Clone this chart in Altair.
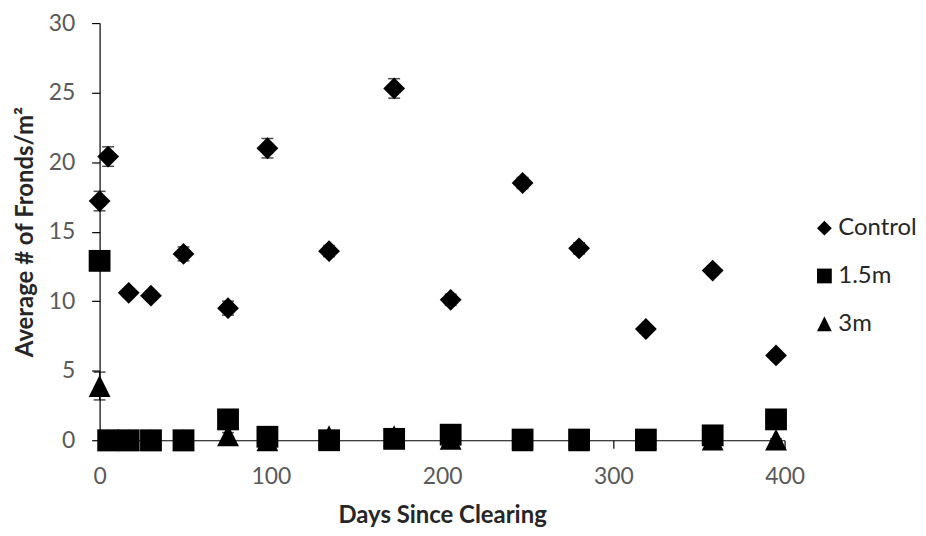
import altair as alt
import pandas as pd

# ---- data ----
days = [0, 5, 17, 30, 49, 75, 98, 134, 172, 205, 247, 280, 319, 358, 395]
control = [17.2, 20.4, 10.6, 10.4, 13.4, 9.5, 21.0, 13.6, 25.3, 10.1, 18.5, 13.8, 8.0, 12.2, 6.1]
control_se = [0.7, 0.7, 0.3, 0.3, 0.5, 0.5, 0.7, 0.4, 0.7, 0.4, 0.4, 0.4, 0.3, 0.3, 0.3]
m15 = [12.9, 0, 0, 0, 0, 1.5, 0.25, 0, 0.1, 0.4, 0.05, 0.05, 0.05, 0.35, 1.5]
m15_se = [0.6, 0, 0, 0, 0, 0.3, 0.1, 0, 0.1, 0.2, 0, 0, 0, 0.2, 0.3]
m3 = [3.9, 0, 0, 0, 0, 0.35, 0, 0.3, 0.3, 0.1, 0, 0, 0, 0.05, 0.05]
m3_se = [1.0, 0, 0, 0, 0, 0.2, 0, 0.2, 0.2, 0.1, 0, 0, 0, 0.05, 0.05]
series_names = ["Control", "1.5m", "3m"]
x_ticks = [0, 100, 200, 300, 400]
y_ticks = [0, 5, 10, 15, 20, 25, 30]

rows = []
for name, vals, errs in zip(series_names, [control, m15, m3], [control_se, m15_se, m3_se]):
    for d, v, e in zip(days, vals, errs):
        rows.append(dict(day=d, value=v, series=name, se=e,
                         lo=max(v - e, 0), hi=v + e))
df = pd.DataFrame(rows)
err_df = df[df["se"] > 0]

FONT = "Lato"
diamond = "M-1,0L0,-1L1,0L0,1Z"
square = "M-1,-1L1,-1L1,1L-1,1Z"
triangle = "M0,-1L1,1L-1,1Z"

x_enc = alt.X("day:Q", scale=alt.Scale(domain=[0, 400], nice=False),
              axis=alt.Axis(values=x_ticks, title="Days Since Clearing", grid=False,
                            tickSize=8, labelPadding=17, titlePadding=16,
                            labelFlush=False, format="d"))
y_scale = alt.Scale(domain=[0, 30], nice=False)
y_axis = alt.Axis(values=y_ticks, title="Average # of Fronds/m²", grid=False,
                  tickSize=8, labelPadding=17, titlePadding=11,
                  labelFlush=False, format="d")

base = alt.Chart(err_df)
rule = base.mark_rule(color="black", strokeWidth=1.2, clip=False).encode(
    x="day:Q", y=alt.Y("lo:Q", scale=y_scale), y2="hi:Q")
cap_lo = base.mark_tick(color="black", orient="horizontal", size=12, thickness=1.5, clip=False).encode(
    x="day:Q", y=alt.Y("lo:Q", scale=y_scale))
cap_hi = base.mark_tick(color="black", orient="horizontal", size=12, thickness=1.5, clip=False).encode(
    x="day:Q", y=alt.Y("hi:Q", scale=y_scale))

points = alt.Chart(df).mark_point(filled=True, opacity=1, size=480, clip=False,
                                  color="black", strokeWidth=0).encode(
    x=x_enc,
    y=alt.Y("value:Q", scale=y_scale, axis=y_axis),
    shape=alt.Shape("series:N",
                    scale=alt.Scale(domain=series_names, range=[diamond, square, triangle]),
                    legend=alt.Legend(title=None, orient="none", legendX=716, legendY=194,
                                      symbolSize=220, symbolFillColor="black",
                                      symbolStrokeColor="black", symbolStrokeWidth=0,
                                      symbolOpacity=1,
                                      labelFontSize=24, labelFont=FONT, labelColor="#262626",
                                      labelOffset=2, rowPadding=24, padding=0)),
)

chart = alt.layer(points, rule, cap_lo, cap_hi).properties(
    width=688, height=419,
    autosize=alt.AutoSizeParams(type="none"),
    padding={"left": 92, "top": 14, "right": 134, "bottom": 87},
).configure_view(stroke=None).configure_axis(
    domainColor="black", domainWidth=1.2, tickColor="black", tickWidth=1.2,
    labelFont=FONT, labelFontSize=23, labelColor="#595959",
    titleFont=FONT, titleFontSize=24, titleFontWeight="bold", titleColor="#262626",
)

chart.save("out.html", embed_options={"renderer": "svg", "actions": False})
